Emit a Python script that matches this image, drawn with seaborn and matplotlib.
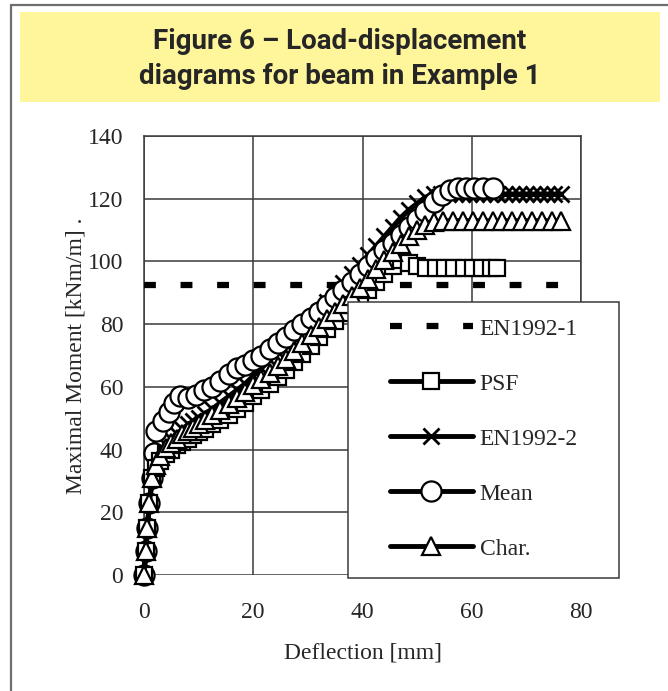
import numpy as np
import pandas as pd
import matplotlib
matplotlib.use("Agg")
import matplotlib.pyplot as plt
from matplotlib.patches import Rectangle
from matplotlib.lines import Line2D
import seaborn as sns

# DATA
en1_x = [0, 80]
en1_y = [92.6, 92.6]

psf_x = [0, 0.3, 0.6, 1.0, 1.5, 2.2, 3.0, 4.0, 5.0, 6.0, 7.0, 8.0, 9.0, 10.0, 11.2, 12.5,
         14.0, 15.5, 17.0, 18.5, 20.0, 21.5, 23.0, 24.5, 26.0, 27.5, 29.0, 30.5, 32.0, 33.5,
         35.0, 36.5, 38.0, 39.5, 41.0, 42.5, 44.0, 45.5, 47.0, 48.5, 50.0, 51.7, 53.4, 55.1,
         56.8, 58.5, 60.2, 61.9, 63.6, 64.6]
psf_y = [0, 7.5, 15, 23, 31, 34, 36.5, 38.5, 40, 41.5, 42.5, 43.5, 44.5, 45.5, 46.5, 48,
         49.5, 51, 53, 55, 57, 59, 61, 63, 65.5, 68, 70.5, 73, 76, 78.5,
         81, 83.5, 86, 88.5, 91, 93.5, 96, 98.5, 100.5, 99.5, 98.5, 98, 98, 98,
         98, 98, 98, 98, 98, 98]

en2_x = [0, 0.3, 0.6, 1.0, 1.5, 2.2, 3.0, 4.0, 5.0, 6.0, 7.0, 8.0, 9.0, 10.0, 11.2, 12.5,
         14.0, 15.5, 17.0, 18.5, 20.0, 21.5, 23.0, 24.5, 26.0, 27.5, 29.0, 30.5, 32.0, 33.5,
         35.0, 36.5, 38.0, 39.5, 41.0, 42.5, 44.0, 45.5, 47.0, 48.5, 50.0, 51.5, 53.0, 54.3,
         55.6, 56.9, 58.2, 59.5, 60.8, 62.1, 63.4, 64.7, 66.0, 67.3, 68.6, 69.9, 71.2, 72.5,
         73.8, 75.1, 76.4]
en2_y = [0, 7.5, 15, 23, 31, 35.5, 39, 41.5, 43.5, 45, 46.5, 48, 49, 50, 51.5, 53,
         55, 57, 59, 61, 63.5, 66, 68.5, 71, 73.5, 76, 78.5, 81, 84, 87,
         90, 93, 96, 99, 102, 105, 108, 111, 114, 116.5, 118.5, 120.5, 121.5, 121.5,
         121.5, 121.5, 121.5, 121.5, 121.5, 121.5, 121.5, 121.5, 121.5, 121.5, 121.5, 121.5, 121.5, 121.5,
         121.5, 121.5, 121.5]

mean_x = [0, 0.3, 0.6, 1.0, 1.5, 1.8, 2.2, 3.5, 4.5, 5.5, 6.5, 8.0, 9.5, 11.0, 12.5, 14.0,
          15.5, 17.0, 18.5, 20.0, 21.5, 23.0, 24.5, 26.0, 27.5, 29.0, 30.5, 32.0, 33.5, 35.0,
          36.5, 38.0, 39.5, 41.0, 42.5, 44.0, 45.5, 47.0, 48.5, 50.0, 51.5, 53.0, 54.5, 56.0,
          57.5, 59.0, 60.5, 62.0, 63.8]
mean_y = [0, 7.5, 15, 23, 31, 39, 46, 49, 52, 55, 57, 56.5, 57.5, 59, 60, 62,
          64, 66, 67, 68.5, 70, 72, 74, 76, 78, 80, 82, 84, 86, 88.5,
          91, 93.5, 96, 98.5, 101, 103.5, 106, 108.5, 111, 113.5, 116, 119, 121.3, 122.8,
          123.3, 123.3, 123.3, 123.3, 123.3]

char_x = [0, 0.3, 0.6, 1.0, 1.5, 2.2, 3.0, 4.0, 5.0, 6.0, 7.0, 8.0, 9.0, 10.0, 11.2, 12.5,
          14.0, 15.5, 17.0, 18.5, 20.0, 21.5, 23.0, 24.5, 26.0, 27.5, 29.0, 30.5, 32.0, 33.5,
          35.0, 36.5, 38.0, 39.5, 41.0, 42.5, 44.0, 45.5, 47.0, 48.5, 50.0, 51.5, 53.0, 54.8,
          56.6, 58.4, 60.2, 62.0, 63.8, 65.6, 67.4, 69.2, 71.0, 72.8, 74.6, 76.4]
char_y = [0, 7.5, 15, 23, 31, 35, 38, 40.5, 42, 43.5, 45, 46, 47, 48, 49.5, 51,
          52.5, 54.5, 56.5, 58.5, 60.5, 62.5, 64.5, 66.5, 69, 71.5, 74, 76.5, 79, 81.5,
          84, 86.5, 89, 91.5, 94.5, 97.5, 100.5, 103, 105.5, 108, 110, 111.5, 112.5, 113,
          113, 113, 113, 113, 113, 113, 113, 113, 113, 113, 113, 113]

x_ticks = [0, 20, 40, 60, 80]
y_ticks = [0, 20, 40, 60, 80, 100, 120, 140]

W, H = 668, 691
def fx(px):
    return px / W
def fy(py):
    return 1 - py / H

sns.set_style("white")
plt.rcParams['font.family'] = ['Liberation Serif', 'DejaVu Serif']
GRID = '#3a3a3a'
FS = 17

fig = plt.figure(figsize=(W / 100, H / 100), dpi=100)

# outer frame + yellow title box
fig.add_artist(Line2D([fx(11), fx(11)], [fy(5), 0], color='#6e6e6e', lw=1.6))
fig.add_artist(Line2D([fx(11), 1], [fy(5), fy(5)], color='#6e6e6e', lw=1.6))
fig.add_artist(Rectangle((fx(20), fy(102)), fx(660) - fx(20), fy(12) - fy(102),
                         transform=fig.transFigure, facecolor='#fff59b', edgecolor='none'))
fig.text(fx(340), fy(59), "Figure 6 \u2013 Load-displacement\ndiagrams for beam in Example 1",
         ha='center', va='center', fontsize=20, fontweight='bold', linespacing=1.38,
         family=['Roboto', 'DejaVu Sans'])

ax = fig.add_axes([fx(144), fy(575), fx(581) - fx(144), fy(136) - fy(575)])

common = dict(color='black', lw=3.5, estimator=None, sort=False, clip_on=False,
              markerfacecolor='white', markeredgecolor='black', ax=ax)

sns.lineplot(x=en1_x, y=en1_y, label='EN1992-1', color='black', lw=4.5,
             linestyle=(0, (1.9, 3.95)), estimator=None, sort=False, ax=ax, zorder=3)
sns.lineplot(x=en2_x, y=en2_y, label='EN1992-2', marker='x', markersize=11,
             markeredgewidth=2, zorder=3.1, **common)
sns.lineplot(x=mean_x, y=mean_y, label='Mean', marker='o', markersize=14.5,
             markeredgewidth=1.6, zorder=3.2, **common)
sns.lineplot(x=psf_x, y=psf_y, label='PSF', marker='s', markersize=11.5,
             markeredgewidth=1.6, zorder=3.3, **common)
sns.lineplot(x=char_x, y=char_y, label='Char.', marker='^', markersize=12.5,
             markeredgewidth=1.6, zorder=3.4, **common)

ax.set_xlim(0, 80)
ax.set_ylim(0, 140)
ax.set_xticks(x_ticks)
ax.set_yticks(y_ticks)
ax.grid(True, color=GRID, lw=1.1)
ax.set_axisbelow(True)
for s in ['left', 'top', 'right']:
    ax.spines[s].set_color(GRID)
    ax.spines[s].set_linewidth(1.1)
ax.spines['bottom'].set_position(('outward', 5))
ax.spines['bottom'].set_visible(False)
ax.tick_params(axis='y', direction='out', length=5, width=1, color=GRID, pad=10, labelsize=FS)
ax.tick_params(axis='x', direction='out', length=4, width=1, color=GRID, pad=10.5, labelsize=FS)
ax.set_xlabel('Deflection [mm]', fontsize=FS, labelpad=14)
ax.set_ylabel('Maximal Moment [kNm/m] .', fontsize=FS, labelpad=1)

# legend box
ax.add_patch(Rectangle((fx(348), fy(578)), fx(619) - fx(348), fy(302) - fy(578),
                       transform=fig.transFigure, facecolor='white', edgecolor=GRID,
                       lw=1.1, zorder=5, clip_on=False))
handles, labels = ax.get_legend_handles_labels()
order = ['EN1992-1', 'PSF', 'EN1992-2', 'Mean', 'Char.']
hmap = dict(zip(labels, handles))
leg = ax.legend([hmap[k] for k in order], order, frameon=False, loc='upper left',
                bbox_to_anchor=(fx(390), fy(318)), bbox_transform=fig.transFigure,
                fontsize=FS, handlelength=3.5, handletextpad=0.3, labelspacing=1.42,
                borderpad=0, borderaxespad=0)
leg.set_zorder(6)

fig.savefig('out.png', dpi=100)
